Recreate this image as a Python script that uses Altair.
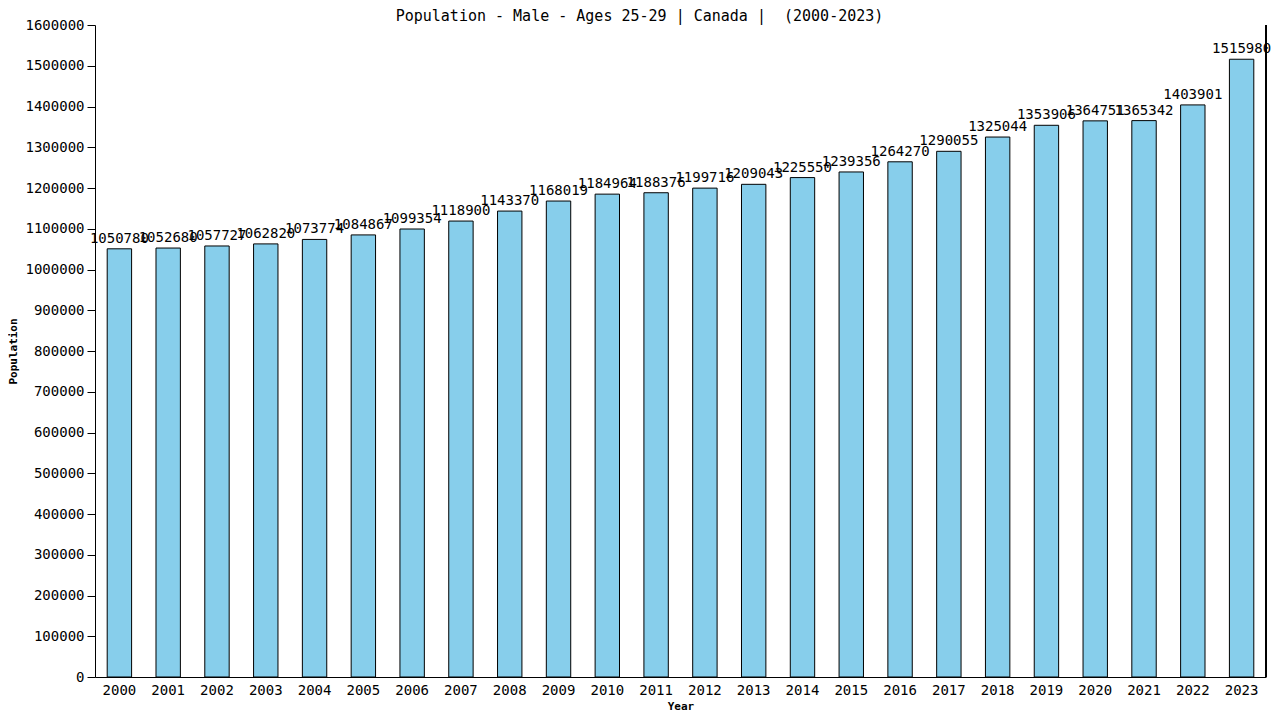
import altair as alt
import pandas as pd

years = [str(y) for y in range(2000, 2024)]
population = [1050780, 1052680, 1057727, 1062820, 1073774, 1084867, 1099354, 1118900,
              1143370, 1168019, 1184964, 1188376, 1199716, 1209043, 1225550, 1239356,
              1264270, 1290055, 1325044, 1353906, 1364751, 1365342, 1403901, 1515980]

df = pd.DataFrame({"Year": years, "Population": population})
FONT = "DejaVu Sans Mono"

x = alt.X("Year:N", title="Year",
          scale=alt.Scale(paddingInner=0.5, paddingOuter=0.25),
          axis=alt.Axis(labelAngle=0, ticks=False, domainColor="black", labelFont=FONT,
                        labelFontSize=14, labelColor="black", labelPadding=6,
                        titleFont=FONT, titleFontSize=11, titleFontWeight="bold",
                        titlePadding=3, titleColor="black"))
y = alt.Y("Population:Q", title="Population",
          scale=alt.Scale(domain=[0, 1600000], nice=False),
          axis=alt.Axis(values=list(range(0, 1600001, 100000)), format="d", grid=False,
                        tickColor="black", tickSize=8, domainColor="black",
                        labelFont=FONT, labelFontSize=14, labelColor="black", labelPadding=3,
                        titleFont=FONT, titleFontSize=11, titleFontWeight="bold",
                        titlePadding=6, titleColor="black"))

bars = alt.Chart(df).mark_bar(color="#87CEEB", stroke="black", strokeWidth=1).encode(x=x, y=y)
labels = alt.Chart(df).mark_text(baseline="bottom", dy=-3, font=FONT, fontSize=14, color="black").encode(
    x="Year:N", y="Population:Q", text=alt.Text("Population:Q", format="d"))
right = alt.Chart(df).mark_rule(color="black").encode(
    x=alt.value(1171), y=alt.value(0), y2=alt.value(652))

chart = alt.layer(bars, labels, right).properties(
    width=1171, height=652,
    title=alt.TitleParams("Population - Male - Ages 25-29 | Canada |\u00a0\u00a0(2000-2023)",
                          font=FONT, fontSize=15, fontWeight="normal", color="black",
                          anchor="middle", dx=-41, offset=4, dy=10),
    autosize=alt.AutoSizeParams(type="none"),
    padding={"left": 87, "top": 17, "right": 6, "bottom": 35},
).configure(background="white").configure_view(stroke=None)

chart.save("out.html", embed_options={"renderer": "svg", "actions": False})
